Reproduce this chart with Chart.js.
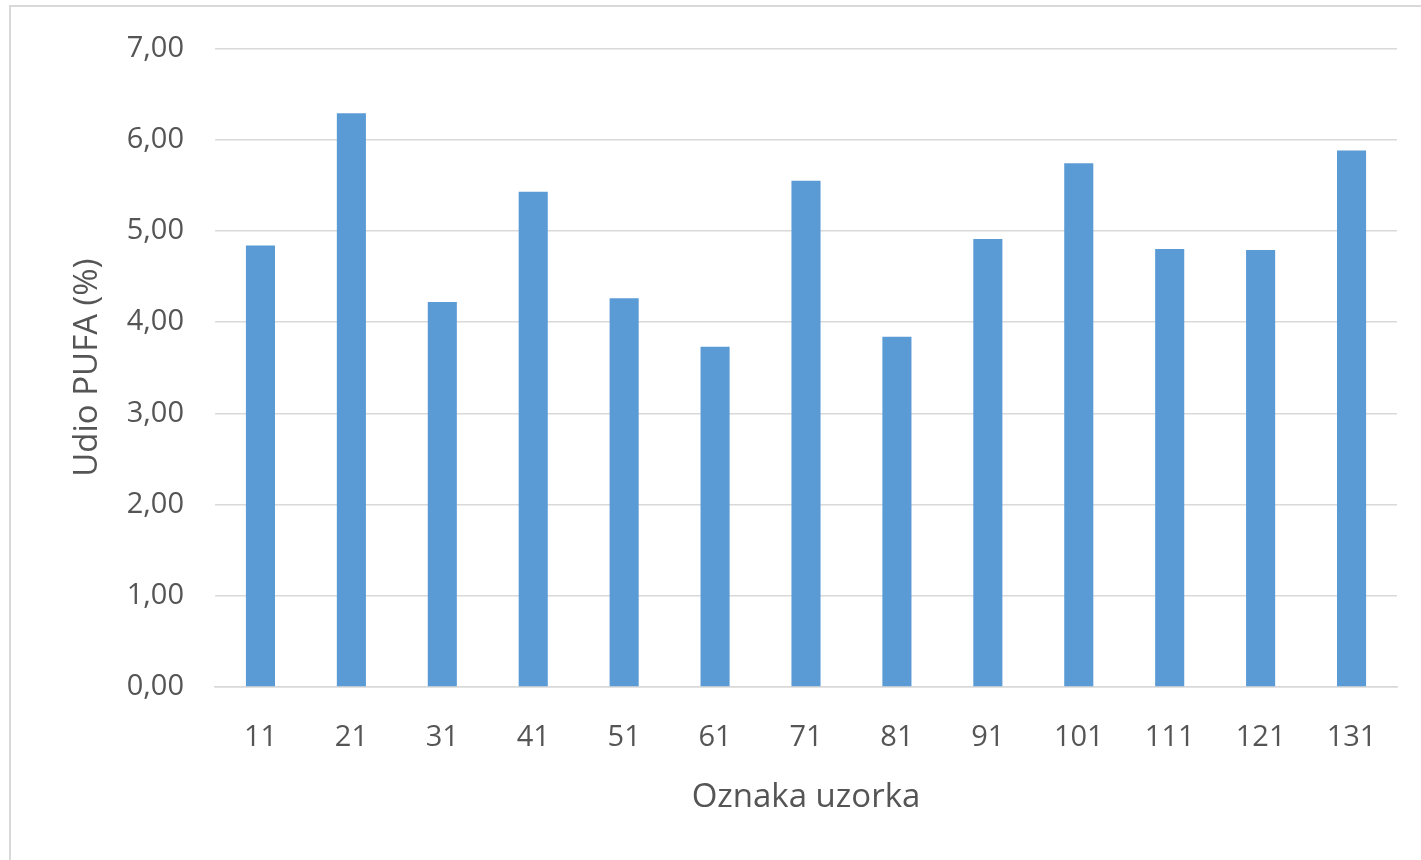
<!DOCTYPE html>
<html>
<head>
<meta charset="utf-8">
<script src="https://cdn.jsdelivr.net/npm/chart.js@4/dist/chart.umd.min.js"></script>
<style>
  html, body { margin: 0; padding: 0; background: #fff; overflow: hidden; }
  #frame { position: absolute; left: 9px; top: 5px; width: 1440px; height: 900px; border: 2px solid #D9D9D9; }
  #wrap { position: absolute; left: 0; top: 0; width: 1421px; height: 860px; }
</style>
</head>
<body>
<div id="frame"></div>
<div id="wrap"><canvas id="pufaChart" width="1421" height="860"></canvas></div>
<script>
// sample labels and PUFA share (%)
let sampleLabels = ["11", "21", "31", "41", "51", "61", "71", "81", "91", "101", "111", "121", "131"];
let pufaValues = [4.84, 6.29, 4.22, 5.43, 4.26, 3.73, 5.55, 3.84, 4.91, 5.74, 4.80, 4.79, 5.88];
let yTicks = [0, 1, 2, 3, 4, 5, 6, 7];

let FONT = "'Open Sans', sans-serif";
let TEXT = "#555555";

let ctx = document.getElementById("pufaChart").getContext("2d");
let pufaChart = new Chart(ctx, {
    type: "bar",
    data: {
        labels: sampleLabels,
        datasets: [{
            label: "Udio PUFA (%)",
            data: pufaValues,
            backgroundColor: "#5B9BD5",
            borderWidth: 0,
            barPercentage: 0.32,
            categoryPercentage: 1.0
        }]
    },
    options: {
        responsive: false,
        maintainAspectRatio: false,
        animation: false,
        layout: { padding: { top: 48, right: 24, bottom: 0, left: 0 } },
        plugins: {
            legend: { display: false },
            tooltip: { enabled: false }
        },
        scales: {
            x: {
                grid: { display: false },
                border: { display: true, color: "#D9D9D9", width: 1.5 },
                ticks: { color: TEXT, font: { family: FONT, size: 29 }, padding: 25, maxRotation: 0 },
                title: {
                    display: true, text: "Oznaka uzorka", color: TEXT,
                    font: { family: FONT, size: 33 }, padding: { top: 0, bottom: 43 }
                },
                afterFit: function (scale) { scale.height = 173; }
            },
            y: {
                min: 0,
                max: 7,
                afterBuildTicks: function (scale) {
                    scale.ticks = yTicks.map(v => ({ value: v }));
                },
                grid: { color: "#D9D9D9", lineWidth: 1.5, drawTicks: false },
                border: { display: false },
                ticks: {
                    color: TEXT,
                    font: { family: FONT, size: 29 },
                    padding: 31,
                    callback: v => v.toFixed(2).replace(".", ",")
                },
                title: {
                    display: true, text: "Udio PUFA (%)", color: TEXT,
                    font: { family: FONT, size: 33 }, padding: { top: 68, bottom: 0 }
                },
                afterFit: function (scale) { scale.width = 215; }
            }
        }
    }
});
</script>
</body>
</html>
